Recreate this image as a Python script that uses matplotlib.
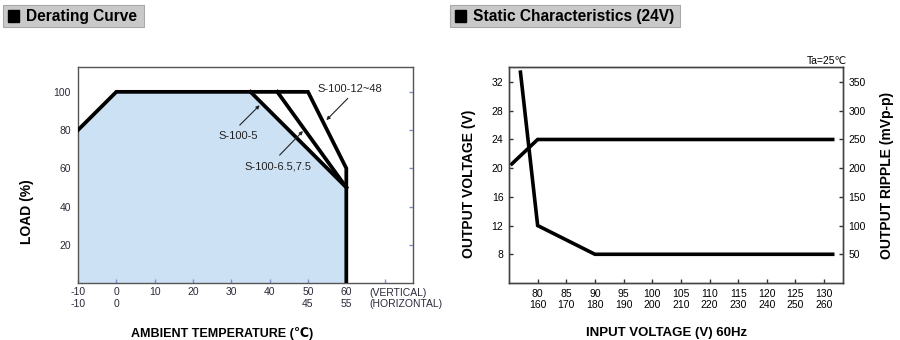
import matplotlib
matplotlib.use('Agg')
from matplotlib import pyplot as plt
from matplotlib import font_manager
from matplotlib.patches import Rectangle

# datos - curva de derating
temp_12_48 = [-10, 0, 50, 60, 60]
load_12_48 = [80, 100, 100, 60, 0]
temp_5 = [35, 60]
load_5 = [100, 50]
temp_65 = [42, 60]
load_65 = [100, 50]
area_x = [-10, -10, 0, 35, 60, 60]
area_y = [0, 80, 100, 100, 50, 0]
temp_ticks = [-10, 0, 10, 20, 30, 40, 50, 60, 70]
temp_labels = ['-10\n-10', '0\n0', '10', '20', '30', '40', '50\n45', '60\n55', '']
load_ticks = [20, 40, 60, 80, 100]

# datos - caracteristica estatica (24V)
vin_out = [75.5, 80, 131.5]
vout = [20.6, 24, 24]
vin_rip = [77, 80, 90, 131.5]
ripple = [367, 100, 50, 50]
vin_ticks = [80, 85, 90, 95, 100, 105, 110, 115, 120, 125, 130]
vin_labels = ['80\n160', '85\n170', '90\n180', '95\n190', '100\n200', '105\n210',
              '110\n220', '115\n230', '120\n240', '125\n250', '130\n260']
vout_ticks = [8, 12, 16, 20, 24, 28, 32]
rip_ticks = [50, 100, 150, 200, 250, 300, 350]

names = {f.name for f in font_manager.fontManager.ttflist}
narrow = 'Liberation Sans Narrow' if 'Liberation Sans Narrow' in names else 'Liberation Sans'
plt.rcParams['font.family'] = ['Liberation Sans', 'DejaVu Sans']

W, H = 900, 340
fig = plt.figure(figsize=(9, 3.4), dpi=100)


def header(x0, x1, txt):
    # caja gris con cuadrado negro
    fig.add_artist(Rectangle((x0 / W, 1 - 27 / H), (x1 - x0) / W, 22 / H,
                             transform=fig.transFigure, facecolor='#c9c9c9',
                             edgecolor='#a8a8a8', lw=0.8))
    fig.add_artist(Rectangle(((x0 + 5) / W, 1 - 22 / H), 11 / W, 12 / H,
                             transform=fig.transFigure, facecolor='black',
                             edgecolor='black'))
    fig.text((x0 + 23) / W, 1 - 16 / H, txt, fontsize=11.2, fontweight='bold',
             family=[narrow, 'DejaVu Sans'], va='center', ha='left')


header(3, 144, 'Derating Curve')
header(450, 680, 'Static Characteristics (24V)')

# ---- Derating curve ----
ax1 = fig.add_axes([78 / W, 1 - 283 / H, 335 / W, 216 / H])
ax1.fill(area_x, area_y, color='#cde1f4', lw=0, zorder=1)
ax1.plot(temp_12_48, load_12_48, 'k', lw=2.7, solid_joinstyle='miter', zorder=3)
ax1.plot(temp_5, load_5, 'k', lw=2.7, zorder=3)
ax1.plot(temp_65, load_65, 'k', lw=2.7, zorder=3)
ax1.set_xlim(-10, 77.4)
ax1.set_ylim(0, 113)
ax1.set_xticks(temp_ticks)
ax1.set_xticklabels(temp_labels)
ax1.set_yticks(load_ticks)
ax1.tick_params(direction='in', length=3, width=1, color='#7f8fd0',
                labelsize=7.5, labelcolor='#2a2a3a', pad=5,
                left=False, right=True, labelleft=True)
ax1.tick_params(axis='x', pad=3)
for s in ax1.spines.values():
    s.set_color('#555555')
    s.set_linewidth(1)
ax1.text(66, -0.022, '(VERTICAL)\n(HORIZONTAL)', transform=ax1.get_xaxis_transform(),
         fontsize=7.5, color='#2a2a3a', ha='left', va='top')

arrow = dict(arrowstyle='-|>', lw=0.8, color='#222222', mutation_scale=5,
             shrinkA=0, shrinkB=0)
ax1.text(52.4, 101.7, 'S-100-12~48', fontsize=8, color='#222222', va='center')
ax1.annotate('', xy=(54.8, 85.2), xytext=(60.4, 96.6), arrowprops=arrow)
ax1.text(31.7, 76.9, 'S-100-5', fontsize=8, color='#222222', ha='center', va='center')
ax1.annotate('', xy=(37.4, 93.0), xytext=(32.2, 82.6), arrowprops=arrow)
ax1.text(42.2, 61.1, 'S-100-6.5,7.5', fontsize=8, color='#222222', ha='center', va='center')
ax1.annotate('', xy=(48.7, 79.5), xytext=(42.6, 66.9), arrowprops=arrow)

ax1.set_ylabel('LOAD (%)', fontsize=10, fontweight='bold')
ax1.yaxis.set_label_coords(-0.13, 0.33)
ax1.set_xlabel('AMBIENT TEMPERATURE (℃)', fontsize=9, fontweight='bold')
ax1.xaxis.set_label_coords(0.431, -0.204)

# ---- Static characteristics ----
ax2 = fig.add_axes([509 / W, 1 - 283 / H, 334 / W, 216 / H])
ax3 = ax2.twinx()
ax2.plot(vin_out, vout, 'k', lw=2.6, solid_joinstyle='miter')
ax3.plot(vin_rip, ripple, 'k', lw=2.6, solid_joinstyle='miter')
ax2.set_xlim(75, 133.3)
ax2.set_ylim(4, 34.1)
ax3.set_ylim(0, 376)
ax2.set_xticks(vin_ticks)
ax2.set_xticklabels(vin_labels)
ax2.set_yticks(vout_ticks)
ax3.set_yticks(rip_ticks)
for a in (ax2, ax3):
    a.tick_params(direction='in', length=3, width=1, color='#333333',
                  labelsize=7.5, pad=4)
    for s in a.spines.values():
        s.set_color('#444444')
        s.set_linewidth(1)

ax2.set_ylabel('OUTPUT VOLTAGE (V)', fontsize=10, fontweight='bold')
ax2.yaxis.set_label_coords(-0.1, 0.46)
ax3.set_ylabel('OUTPUT RIPPLE (mVp-p)', fontsize=10, fontweight='bold')
ax3.yaxis.set_label_coords(1.11, 0.5)
ax2.set_xlabel('INPUT VOLTAGE (V) 60Hz', fontsize=9.5, fontweight='bold')
ax2.xaxis.set_label_coords(0.473, -0.204)
ax2.text(1.012, 1.005, 'Ta=25℃', transform=ax2.transAxes, fontsize=7.5,
         ha='right', va='bottom')

fig.savefig('out.png', dpi=100)
